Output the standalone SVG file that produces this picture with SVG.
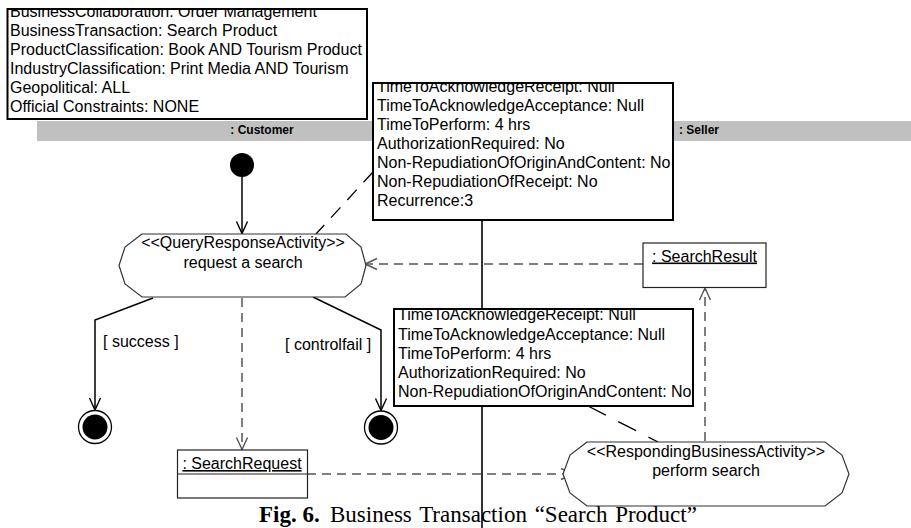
<svg xmlns="http://www.w3.org/2000/svg" width="911" height="528" viewBox="0 0 911 528">
  <defs>
    <style>
      text { font-family: "Liberation Sans", Arial, sans-serif; font-size: 16px; fill: #000; }
      .note { fill: #fff; stroke: #000; stroke-width: 2; }
      .lane { fill: #c0c0c0; }
      .laneLabel { font-size: 12px; font-weight: bold; text-anchor: middle; }
      .divider { stroke: #000; stroke-width: 1.6; }
      .act { fill: #fff; stroke: #333; stroke-width: 1.2; }
      .obj { fill: #fff; stroke: #222; stroke-width: 1.2; }
      .initial { fill: #000; }
      .finalRing { fill: #fff; stroke: #000; stroke-width: 1.3; }
      .finalDot { fill: #000; }
      .flow { fill: none; stroke: #000; stroke-width: 1.5; marker-end: url(#arrow); }
      .oflow { fill: none; stroke: #555; stroke-width: 1.5; stroke-dasharray: 9 6; marker-end: url(#arrowGray); }
      .anchor { fill: none; stroke: #000; stroke-width: 1.3; }
      .mid { text-anchor: middle; }
      .caption { font-family: "Liberation Serif", "Times New Roman", serif; font-size: 23px; }
    </style>
    <marker id="arrow" markerUnits="userSpaceOnUse" viewBox="0 0 13 12" refX="12.5" refY="6" markerWidth="13" markerHeight="12" orient="auto" overflow="visible">
      <path d="M0.5,0.5 L12.5,6 L0.5,11.5" fill="none" stroke="#000" stroke-width="1.4"/>
    </marker>
    <marker id="arrowGray" markerUnits="userSpaceOnUse" viewBox="0 0 13 12" refX="12.5" refY="6" markerWidth="13" markerHeight="12" orient="auto" overflow="visible">
      <path d="M0.5,0.5 L12.5,6 L0.5,11.5" fill="none" stroke="#555" stroke-width="1.4"/>
    </marker>
    <clipPath id="clipCollab"><rect x="8" y="10" width="358" height="108"/></clipPath>
    <clipPath id="clipReq"><rect x="374" y="84" width="298" height="135"/></clipPath>
    <clipPath id="clipResp"><rect x="395" y="310" width="297" height="95"/></clipPath>
  </defs>

  <!-- swimlane header and partition line -->
  <g id="swimlanes">
    <rect class="lane" x="37" y="121" width="874" height="20"/>
    <text class="laneLabel" x="262" y="134">: Customer</text>
    <text class="laneLabel" x="699" y="134">: Seller</text>
    <line class="divider" x1="482" y1="141" x2="482" y2="528"/>
  </g>

  <!-- caption -->
  <text class="caption" x="259" y="522"><tspan font-weight="bold">Fig. 6.</tspan><tspan x="330" word-spacing="2">Business Transaction “Search Product”</tspan></text>

  <g id="connectors">
    <!-- control flow -->
    <line class="flow" x1="242" y1="177" x2="242" y2="233.5"/>
    <polyline class="flow" points="153,298 95,320 95,410"/>
    <polyline class="flow" points="313,297 381,330 381,410.5"/>
    <!-- object flow -->
    <line class="oflow" x1="242" y1="298" x2="242" y2="449.5"/>
    <line class="oflow" x1="307" y1="474" x2="573" y2="474"/>
    <line class="oflow" x1="705" y1="441" x2="705" y2="288"/>
    <line class="oflow" x1="643" y1="264" x2="365" y2="264"/>
    <!-- note anchors -->
    <line class="anchor" x1="373" y1="172" x2="316" y2="234" stroke-dasharray="14 10"/>
    <line class="anchor" x1="588" y1="406" x2="658" y2="442" stroke-dasharray="20 14"/>
    <text x="103" y="347">[ success ]</text>
    <text x="285" y="350">[ controlfail ]</text>
  </g>

  <g id="start">
    <circle class="initial" cx="242" cy="165" r="12"/>
  </g>

  <g id="final-success">
    <circle class="finalRing" cx="95" cy="427" r="16.5"/>
    <circle class="finalDot" cx="95" cy="427" r="12.5"/>
  </g>

  <g id="final-controlfail">
    <circle class="finalRing" cx="381" cy="427.5" r="16.5"/>
    <circle class="finalDot" cx="381" cy="427.5" r="12.5"/>
  </g>

  <g id="request-search">
    <polygon class="act" points="142,234 125,247 119,265.5 125,284 142,297 345,297 361,284 366,265.5 361,247 346,234"/>
    <text class="mid" x="243" y="248">&lt;&lt;QueryResponseActivity&gt;&gt;</text>
    <text class="mid" x="243" y="267.5">request a search</text>
  </g>

  <g id="perform-search">
    <polygon class="act" points="587,442 570,455 563,474 570,493 587,506 825,506 842,493 849,474 842,455 825,442"/>
    <text class="mid" x="706" y="456.5">&lt;&lt;RespondingBusinessActivity&gt;&gt;</text>
    <text class="mid" x="706" y="476">perform search</text>
  </g>

  <g id="search-request">
    <rect class="obj" x="177.5" y="450" width="130" height="48"/>
    <line class="obj" x1="177.5" y1="474" x2="307.5" y2="474"/>
    <text class="mid" x="242" y="469" text-decoration="underline">: SearchRequest</text>
  </g>

  <g id="search-result">
    <rect class="obj" x="643" y="243" width="123" height="44.5"/>
    <text class="mid" x="704.5" y="261.5" text-decoration="underline">: SearchResult</text>
  </g>

  <g id="collaboration-note">
    <rect class="note" x="7.5" y="9" width="359.5" height="110"/>
    <g clip-path="url(#clipCollab)">
      <text x="10" y="16.5">BusinessCollaboration: Order Management</text>
      <text x="10" y="35.5">BusinessTransaction: Search Product</text>
      <text x="10" y="54.5">ProductClassification: Book AND Tourism Product</text>
      <text x="10" y="73.5">IndustryClassification: Print Media AND Tourism</text>
      <text x="10" y="92.5">Geopolitical: ALL</text>
      <text x="10" y="111.5">Official Constraints: NONE</text>
    </g>
  </g>

  <g id="requesting-note">
    <rect class="note" x="373" y="83" width="300" height="137"/>
    <g clip-path="url(#clipReq)">
      <text x="377" y="91.5">TimeToAcknowledgeReceipt: Null</text>
      <text x="377" y="110.5">TimeToAcknowledgeAcceptance: Null</text>
      <text x="377" y="129.5">TimeToPerform: 4 hrs</text>
      <text x="377" y="148.5">AuthorizationRequired: No</text>
      <text x="377" y="167.5">Non-RepudiationOfOriginAndContent: No</text>
      <text x="377" y="186.5">Non-RepudiationOfReceipt: No</text>
      <text x="377" y="205.5">Recurrence:3</text>
    </g>
  </g>

  <g id="responding-note">
    <rect class="note" x="394" y="309" width="299" height="97"/>
    <g clip-path="url(#clipResp)">
      <text x="398" y="320">TimeToAcknowledgeReceipt: Null</text>
      <text x="398" y="339.5">TimeToAcknowledgeAcceptance: Null</text>
      <text x="398" y="358.5">TimeToPerform: 4 hrs</text>
      <text x="398" y="377.5">AuthorizationRequired: No</text>
      <text x="398" y="396.5">Non-RepudiationOfOriginAndContent: No</text>
    </g>
  </g>
</svg>
